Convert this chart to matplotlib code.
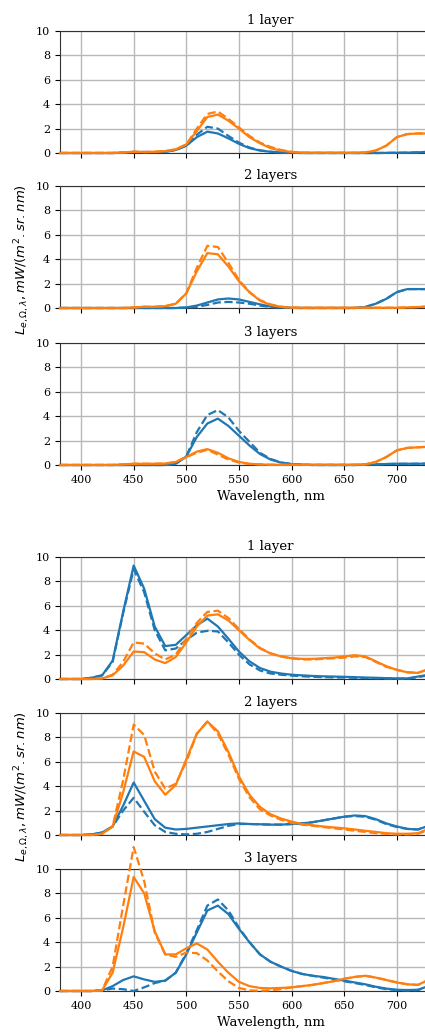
import numpy as np
import matplotlib
matplotlib.use("Agg")
import matplotlib.pyplot as plt

plt.rcParams["font.family"] = "DejaVu Serif"
plt.rcParams["mathtext.fontset"] = "dejavusans"

# wavelengths, nm
wl = np.arange(380, 740, 10)

titles = ["1 layer", "2 layers", "3 layers"]

# ---- first group ----
g1_blue = [
    [0, 0, 0, 0, 0, 0, 0.02, 0.08, 0.08, 0.07, 0.1, 0.25, 0.6, 1.3, 1.75, 1.6, 1.2, 0.75, 0.4, 0.2, 0.1, 0.05, 0.02, 0, 0, 0, 0, 0, 0, 0, 0, 0.01, 0.02, 0.03, 0.05, 0.1],
    [0, 0, 0, 0, 0, 0, 0, 0, 0, 0, 0, 0, 0.05, 0.2, 0.45, 0.7, 0.78, 0.7, 0.5, 0.3, 0.12, 0.05, 0.01, 0, 0, 0, 0, 0, 0, 0.08, 0.35, 0.75, 1.3, 1.55, 1.55, 1.55],
    [0, 0, 0, 0, 0, 0, 0, 0, 0, 0, 0, 0.1, 0.7, 2.3, 3.4, 3.8, 3.2, 2.4, 1.6, 0.9, 0.45, 0.2, 0.08, 0.03, 0, 0, 0, 0, 0, 0.02, 0.05, 0.08, 0.1, 0.1, 0.1, 0.12],
]
g1_blue_d = [
    [0, 0, 0, 0, 0, 0, 0.02, 0.08, 0.08, 0.07, 0.1, 0.25, 0.6, 1.5, 2.15, 2.0, 1.4, 0.85, 0.45, 0.22, 0.1, 0.05, 0.02, 0, 0, 0, 0, 0, 0, 0, 0, 0.01, 0.02, 0.03, 0.05, 0.1],
    [0, 0, 0, 0, 0, 0, 0, 0, 0, 0, 0, 0, 0.03, 0.1, 0.25, 0.45, 0.5, 0.45, 0.35, 0.2, 0.08, 0.03, 0.01, 0, 0, 0, 0, 0, 0, 0.08, 0.35, 0.75, 1.3, 1.55, 1.55, 1.55],
    [0, 0, 0, 0, 0, 0, 0, 0, 0, 0, 0, 0.1, 0.7, 2.7, 4.1, 4.5, 3.9, 2.8, 1.9, 1.0, 0.5, 0.2, 0.08, 0.03, 0, 0, 0, 0, 0, 0.02, 0.05, 0.08, 0.1, 0.1, 0.1, 0.12],
]
g1_orange = [
    [0, 0, 0, 0, 0, 0, 0.05, 0.1, 0.08, 0.1, 0.15, 0.3, 0.7, 1.8, 2.95, 3.15, 2.65, 2.0, 1.3, 0.8, 0.4, 0.2, 0.08, 0.03, 0.02, 0.02, 0.02, 0.02, 0.02, 0.05, 0.2, 0.6, 1.3, 1.55, 1.6, 1.6],
    [0, 0, 0, 0, 0, 0, 0, 0.05, 0.1, 0.1, 0.15, 0.35, 1.2, 3.0, 4.5, 4.4, 3.4, 2.2, 1.3, 0.6, 0.25, 0.1, 0.03, 0.02, 0.02, 0.02, 0.02, 0.02, 0.02, 0.02, 0.02, 0.02, 0.02, 0.05, 0.08, 0.12],
    [0, 0, 0, 0, 0, 0, 0.05, 0.1, 0.1, 0.1, 0.12, 0.25, 0.65, 1.1, 1.3, 1.0, 0.55, 0.25, 0.1, 0.05, 0.02, 0.02, 0.02, 0.02, 0.02, 0.02, 0.02, 0.02, 0.02, 0.05, 0.25, 0.65, 1.2, 1.4, 1.45, 1.5],
]
g1_orange_d = [
    [0, 0, 0, 0, 0, 0, 0.05, 0.1, 0.08, 0.1, 0.15, 0.3, 0.7, 2.0, 3.2, 3.4, 2.8, 2.1, 1.4, 0.85, 0.5, 0.25, 0.1, 0.03, 0.02, 0.02, 0.02, 0.02, 0.02, 0.05, 0.2, 0.6, 1.3, 1.55, 1.6, 1.6],
    [0, 0, 0, 0, 0, 0, 0, 0.05, 0.1, 0.1, 0.15, 0.35, 1.2, 3.3, 5.1, 5.0, 3.7, 2.3, 1.3, 0.65, 0.3, 0.1, 0.03, 0.02, 0.02, 0.02, 0.02, 0.02, 0.02, 0.02, 0.02, 0.02, 0.02, 0.05, 0.08, 0.12],
    [0, 0, 0, 0, 0, 0, 0.05, 0.1, 0.1, 0.1, 0.12, 0.25, 0.65, 1.0, 1.25, 0.85, 0.45, 0.2, 0.08, 0.05, 0.02, 0.02, 0.02, 0.02, 0.02, 0.02, 0.02, 0.02, 0.02, 0.05, 0.25, 0.65, 1.2, 1.4, 1.45, 1.5],
]

# ---- second group ----
g2_blue = [
    [0, 0, 0, 0.1, 0.3, 1.5, 5.5, 9.3, 7.4, 4.3, 2.7, 2.8, 3.6, 4.4, 4.95, 4.3, 3.3, 2.25, 1.45, 0.9, 0.6, 0.45, 0.35, 0.3, 0.25, 0.22, 0.2, 0.18, 0.15, 0.12, 0.1, 0.07, 0.05, 0.05, 0.2, 0.35],
    [0, 0, 0, 0.05, 0.2, 0.7, 2.4, 4.3, 2.8, 1.3, 0.6, 0.45, 0.5, 0.6, 0.7, 0.8, 0.9, 0.95, 0.9, 0.88, 0.85, 0.85, 0.9, 0.95, 1.05, 1.2, 1.35, 1.5, 1.6, 1.55, 1.3, 0.95, 0.7, 0.5, 0.45, 0.75],
    [0, 0, 0, 0, 0.05, 0.4, 0.9, 1.2, 0.95, 0.75, 0.85, 1.5, 3.0, 4.8, 6.6, 7.0, 6.3, 5.1, 4.0, 3.0, 2.4, 2.0, 1.65, 1.4, 1.25, 1.15, 1.0, 0.85, 0.7, 0.55, 0.35, 0.2, 0.1, 0.08, 0.1, 0.4],
]
g2_blue_d = [
    [0, 0, 0, 0.1, 0.3, 1.4, 5.4, 9.0, 7.1, 4.0, 2.35, 2.5, 3.2, 3.8, 3.95, 3.9, 3.0, 2.0, 1.2, 0.7, 0.45, 0.35, 0.28, 0.22, 0.18, 0.15, 0.13, 0.12, 0.1, 0.08, 0.06, 0.04, 0.03, 0.03, 0.15, 0.3],
    [0, 0, 0, 0.05, 0.2, 0.7, 2.0, 3.05, 1.9, 0.8, 0.25, 0.1, 0.05, 0.1, 0.25, 0.5, 0.75, 0.9, 0.9, 0.88, 0.85, 0.85, 0.9, 0.95, 1.05, 1.2, 1.35, 1.5, 1.55, 1.5, 1.25, 0.9, 0.65, 0.5, 0.45, 0.75],
    [0, 0, 0, 0, 0.05, 0.2, 0.15, 0.0, 0.3, 0.65, 0.85, 1.5, 3.1, 5.0, 7.0, 7.5, 6.6, 5.2, 4.0, 3.0, 2.4, 2.0, 1.65, 1.4, 1.25, 1.1, 0.95, 0.8, 0.65, 0.5, 0.3, 0.15, 0.08, 0.05, 0.08, 0.35],
]
g2_orange = [
    [0, 0, 0, 0, 0.05, 0.3, 1.1, 2.25, 2.2, 1.6, 1.3, 1.8, 3.0, 4.3, 5.2, 5.3, 4.8, 4.0, 3.2, 2.5, 2.1, 1.85, 1.7, 1.65, 1.65, 1.7, 1.75, 1.85, 1.95, 1.85, 1.45, 1.05, 0.75, 0.55, 0.5, 0.8],
    [0, 0, 0, 0, 0.1, 0.7, 3.5, 6.85, 6.4, 4.4, 3.3, 4.1, 6.2, 8.3, 9.3, 8.5, 6.8, 4.8, 3.3, 2.3, 1.7, 1.35, 1.1, 0.9, 0.8, 0.7, 0.62, 0.55, 0.45, 0.35, 0.25, 0.15, 0.1, 0.1, 0.15, 0.5],
    [0, 0, 0, 0, 0.05, 1.5, 5.2, 9.35, 8.0, 4.9, 3.0, 3.0, 3.5, 3.9, 3.4, 2.4, 1.5, 0.75, 0.4, 0.25, 0.22, 0.25, 0.3, 0.4, 0.5, 0.65, 0.8, 1.0, 1.15, 1.25, 1.1, 0.9, 0.7, 0.55, 0.5, 0.9],
]
g2_orange_d = [
    [0, 0, 0, 0, 0.05, 0.35, 1.4, 3.0, 2.9, 2.1, 1.6, 2.0, 3.3, 4.6, 5.5, 5.6, 5.0, 4.1, 3.25, 2.55, 2.1, 1.85, 1.7, 1.6, 1.6, 1.65, 1.7, 1.75, 1.85, 1.8, 1.4, 1.0, 0.75, 0.55, 0.5, 0.8],
    [0, 0, 0, 0, 0.1, 0.7, 4.5, 9.05, 8.2, 5.2, 3.8, 4.2, 6.0, 8.3, 9.3, 8.3, 6.6, 4.6, 3.1, 2.1, 1.6, 1.25, 1.0, 0.85, 0.75, 0.65, 0.55, 0.45, 0.35, 0.25, 0.15, 0.1, 0.05, 0.05, 0.1, 0.4],
    [0, 0, 0, 0, 0.05, 2.0, 7.0, 11.8, 9.0, 4.8, 3.0, 2.8, 3.15, 3.1, 2.5, 1.6, 0.8, 0.25, 0.05, 0.02, 0.05, 0.15, 0.3, 0.4, 0.5, 0.65, 0.8, 1.0, 1.15, 1.25, 1.1, 0.9, 0.7, 0.55, 0.5, 0.9],
]

ylab = r"$L_{e,\Omega,\lambda}, mW/(m^2.sr.nm)$"

fig = plt.figure(figsize=(4.25, 10.32), dpi=100)
H = 1032.0

# axes tops in pixels, from the top of the image
tops = [31, 186, 343, 557, 713, 869]
left = 60 / 425
width = 421 / 425  # wider than the figure, so the right side is cut off
height = 122 / H

groups = [(g1_blue, g1_blue_d, g1_orange, g1_orange_d),
          (g2_blue, g2_blue_d, g2_orange, g2_orange_d)]

for gi, (b, bd, o, od) in enumerate(groups):
    for k in range(3):
        top = tops[gi * 3 + k]
        ax = fig.add_axes([left, 1 - (top + 122) / H, width, height])
        ax.plot(wl, b[k], color="tab:blue", lw=1.6, clip_on=False, zorder=3)
        ax.plot(wl, bd[k], "--", color="tab:blue", lw=1.6, clip_on=False, zorder=3)
        ax.plot(wl, o[k], color="tab:orange", lw=1.6, clip_on=False, zorder=3)
        ax.plot(wl, od[k], "--", color="tab:orange", lw=1.6, clip_on=False, zorder=3)
        ax.set_xlim(380, 780)
        ax.set_ylim(0, 10)
        ax.set_xticks(np.arange(400, 750, 50))
        ax.set_yticks(np.arange(0, 12, 2))
        ax.grid(True, color="#b8b8b8", lw=1.0)
        ax.set_axisbelow(True)
        for s in ax.spines.values():
            s.set_color("#333333")
        ax.spines["right"].set_visible(False)
        ax.tick_params(labelsize=8)
        ax.set_title(titles[k], fontsize=9.5, pad=5)
        if k < 2:
            ax.tick_params(labelbottom=False)
        else:
            ax.set_xlabel("Wavelength, nm", fontsize=9.5)
        if k == 1:
            ax.set_ylabel(ylab, fontsize=9.5)
            ax.yaxis.set_label_coords(-0.066, 0.4)

fig.savefig("out.png", dpi=100)
